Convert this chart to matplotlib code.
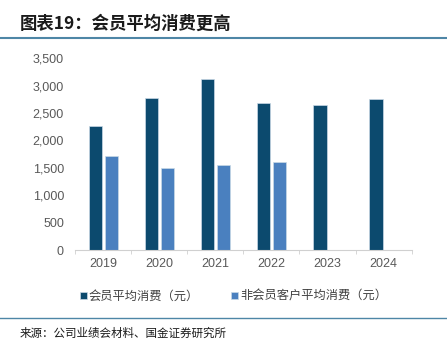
import numpy as np
import matplotlib
matplotlib.use('Agg')
import matplotlib.pyplot as plt
from matplotlib.lines import Line2D

plt.rcParams['font.family'] = ['Noto Sans CJK SC', 'DejaVu Sans']

# data
years = ['2019', '2020', '2021', '2022', '2023', '2024']
member = [2270, 2780, 3115, 2680, 2645, 2755]
non_member = [1720, 1500, 1550, 1610, np.nan, np.nan]
yticks = [0, 500, 1000, 1500, 2000, 2500, 3000, 3500]

dark = '#0c4a6e'
light = '#4a80bf'

fig = plt.figure(figsize=(4.47, 3.44), dpi=100)
ax = fig.add_axes([0.168, 0.273, 0.753, 0.558])

x = np.arange(len(years))
w = 0.235
ax.bar(x - 0.135, member, w, color=dark, edgecolor='#c9d9e6', linewidth=0.5, label='会员平均消费（元）')
ax.bar(x + 0.145, non_member, w, color=light, edgecolor='#c9d9e6', linewidth=0.5, label='非会员客户平均消费（元）')

ax.set_xlim(-0.5, len(years) - 0.5)
ax.set_ylim(0, 3500)
ax.set_yticks(yticks)
ax.set_yticklabels([f'{v:,}' for v in yticks], family='Liberation Sans')
ax.set_xticks(x)
ax.set_xticklabels(years, family='Liberation Sans')
ax.set_xticks(np.arange(-0.5, len(years)), minor=True)
ax.tick_params(axis='x', which='major', length=0, pad=6, labelsize=9, colors='#595959')
ax.tick_params(axis='x', which='minor', length=3, color='#d0d0d0')
ax.tick_params(axis='y', length=0, pad=8, labelsize=9, colors='#595959')
for s in ['top', 'right', 'left']:
    ax.spines[s].set_visible(False)
ax.spines['bottom'].set_color('#d0d0d0')

ax.legend(loc='upper center', bbox_to_anchor=(0.47, -0.15), ncol=2, frameon=False,
          fontsize=8.8, handlelength=0.6, handleheight=0.6, handletextpad=0.15,
          columnspacing=2.6, labelcolor='#404040')

fig.text(0.045, 0.93, '图表19：会员平均消费更高', fontsize=12.5, fontweight='bold',
         color='#1a1a1a', va='center', style='italic')
fig.add_artist(Line2D([0, 1], [0.889, 0.889], color='#4e86a6', lw=1.5, transform=fig.transFigure))
fig.add_artist(Line2D([0, 1], [0.076, 0.076], color='#4e86a6', lw=1.0, transform=fig.transFigure))
fig.text(0.045, 0.032, '来源：公司业绩会材料、国金证券研究所', fontsize=8.3, color='#1a1a1a', va='center')

fig.savefig('out.png', dpi=100)
